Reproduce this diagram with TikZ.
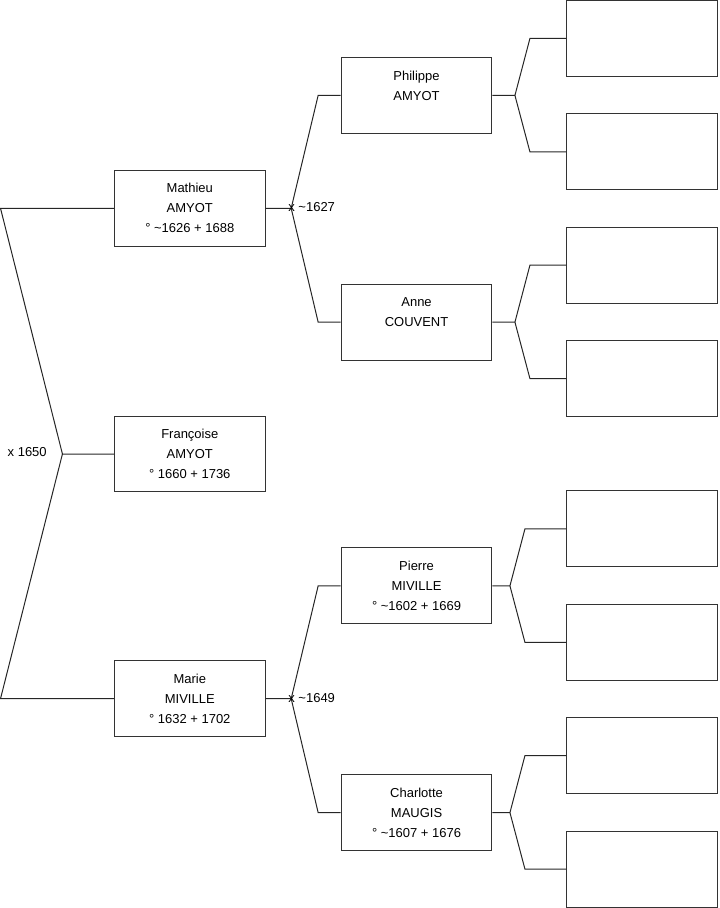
\documentclass[tikz,border=0pt]{standalone}
\usepackage{fontspec}
\setmainfont{Liberation Sans}
\usetikzlibrary{positioning}

\tikzset{
  person/.style={draw=black!80, line width=1pt, minimum width=151pt, minimum height=76pt, inner sep=0pt, align=center, font=\fontsize{13}{20}\selectfont},
  link/.style={draw=black!85, line width=1pt},
  wed/.style={anchor=west, inner sep=0pt, font=\fontsize{13}{16}\selectfont}
}

\begin{document}
\begin{tikzpicture}[x=1pt,y=-1pt]
\useasboundingbox (-0.5,-0.5) rectangle (719.5,908.5);
% first generation
\node[person] (francoise) at (189.5,454) {Françoise\\AMYOT\\° 1660 + 1736};
\node[person] (mathieu) at (189.5,208) {Mathieu\\AMYOT\\° \textasciitilde1626 + 1688};
\node[person] (marie) at (189.5,699) {Marie\\MIVILLE\\° 1632 + 1702};
% second generation
\node[person] (philippe) at (416.5,95) {Philippe\\AMYOT\\\mbox{}};
\node[person] (anne) at (416.5,322) {Anne\\COUVENT\\\mbox{}};
\node[person] (pierre) at (416.5,586) {Pierre\\MIVILLE\\° \textasciitilde1602 + 1669};
\node[person] (charlotte) at (416.5,813) {Charlotte\\MAUGIS\\° \textasciitilde1607 + 1676};

% parents of francoise
\coordinate (j0) at (62,454);
\coordinate (j0a) at (0,208);
\coordinate (j0b) at (0,699);
\draw[link] (mathieu.west) -- (j0a) -- (j0) -- (francoise.west);
\draw[link] (j0) -- (j0b) -- (marie.west);
\node[wed] (w0) at (7,452) {x 1650};

% parents of mathieu
\coordinate (j1) at (291,208);
\coordinate (j1a) at (318,95);
\coordinate (j1b) at (318,322);
\draw[link] (mathieu.east) -- (j1) -- (j1a) -- (philippe.west);
\draw[link] (j1) -- (j1b) -- (anne.west);
\node[wed] (w1) at (288,207) {x \textasciitilde1627};

% parents of marie
\coordinate (j2) at (291,699);
\coordinate (j2a) at (318,586);
\coordinate (j2b) at (318,813);
\draw[link] (marie.east) -- (j2) -- (j2a) -- (pierre.west);
\draw[link] (j2) -- (j2b) -- (charlotte.west);
\node[wed] (w2) at (288,698) {x \textasciitilde1649};

% third generation, empty boxes
\foreach \p/\jx/\bx/\y in {philippe/515/530/95, anne/515/530/322, pierre/510/525/586, charlotte/510/525/813} {
  \node[person] (\p-f) at (642.5,\y-57) {};
  \node[person] (\p-m) at (642.5,\y+56.5) {};
  \coordinate (\p-j) at (\jx,\y);
  \coordinate (\p-ja) at (\bx,\y-57);
  \coordinate (\p-jb) at (\bx,\y+56.5);
  \draw[link] (\p.east) -- (\p-j) -- (\p-ja) -- (\p-f.west);
  \draw[link] (\p-j) -- (\p-jb) -- (\p-m.west);
}
\end{tikzpicture}
\end{document}
